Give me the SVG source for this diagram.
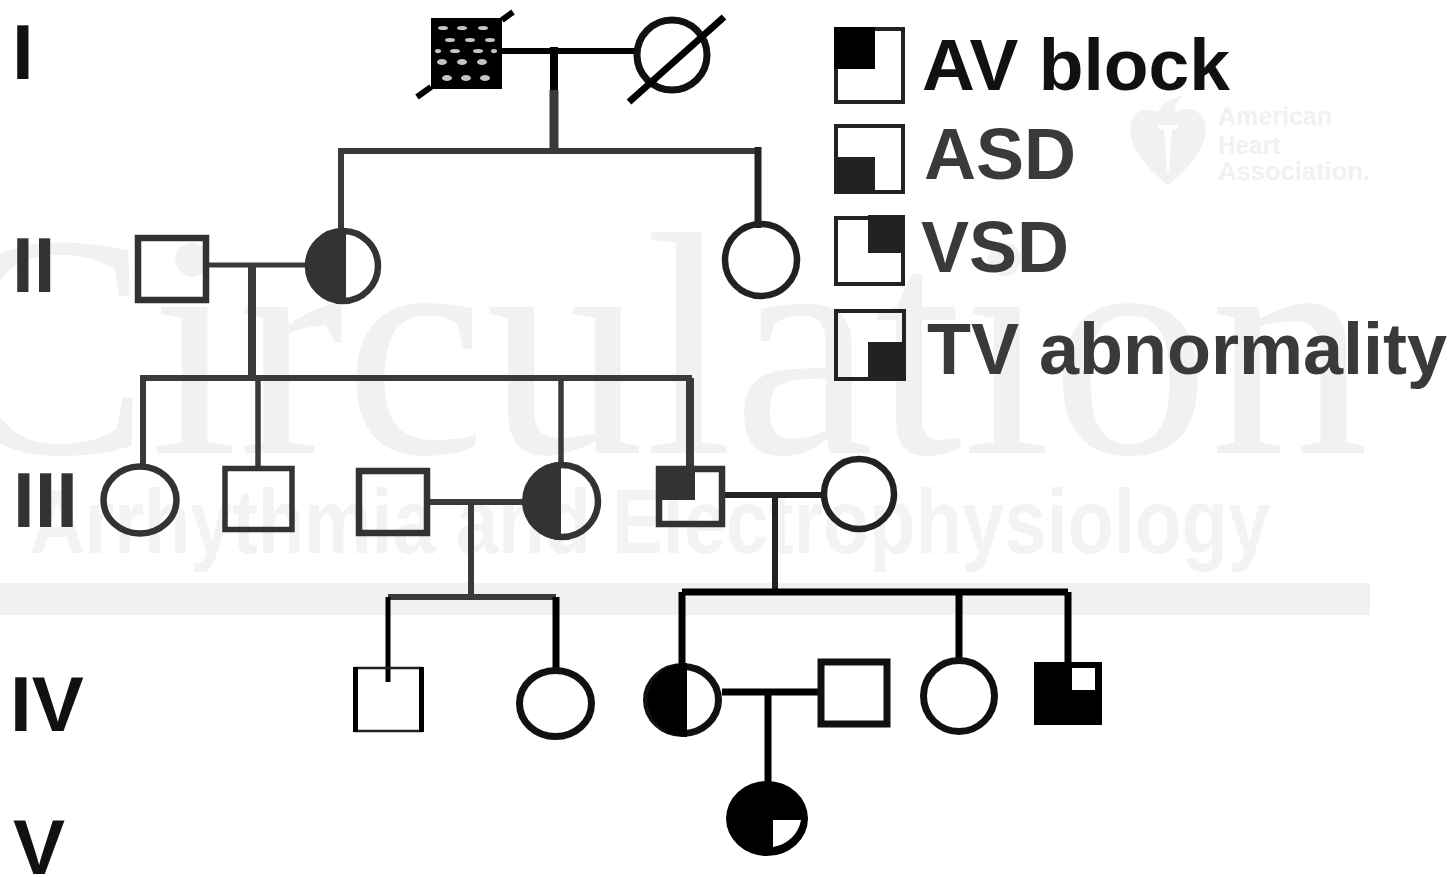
<svg xmlns="http://www.w3.org/2000/svg" width="1452" height="877" viewBox="0 0 1452 877">
<style>
.wm{fill:#f1f1f1}
.wa{font-family:"Liberation Sans",Arial,sans-serif;font-weight:bold;fill:#f3f3f3;font-size:90px}
.wh{font-family:"Liberation Sans",Arial,sans-serif;font-weight:bold;fill:#f1f1f1;font-size:26px}
.lbl{font-family:"Liberation Sans",Arial,sans-serif;font-weight:bold;fill:#3a3a3a;font-size:72px}
.gen{font-family:"Liberation Sans",Arial,sans-serif;font-weight:bold;fill:#111;font-size:78px}
.s{fill:none;stroke:#333;stroke-width:6.5}
.k{fill:none;stroke:#111;stroke-width:7}
.f{fill:#333}
.lf{fill:#222}
.b{fill:#000}
.l{fill:none;stroke:#222;stroke-width:4}
.c{fill:none;stroke:#3a3a3a;stroke-width:6}
.d{fill:none;stroke:#000;stroke-width:7}
.sp{fill:#c4c4c4}
</style>
<rect width="1452" height="877" fill="#fff"/>
<g id="watermark">
<text class="wm" x="-62" y="453" font-family="Liberation Serif,serif" font-size="318">Circulation</text>
<text class="wa" x="30" y="553" textLength="1240" lengthAdjust="spacingAndGlyphs">Arrhythmia and Electrophysiology</text>
<rect class="wm" x="0" y="583" width="1370" height="32"/>
<path class="wm" d="M1168 186C1150 170 1130 150 1130 130C1130 112 1145 106 1158 112C1164 102 1172 98 1182 96C1176 102 1174 108 1176 112C1190 104 1206 112 1206 130C1206 150 1186 170 1168 186Z"/>
<path fill="#fff" d="M1158 125H1178V129H1172L1169 172H1167L1164 129H1158Z"/>
<text class="wh" x="1218" y="125" textLength="114" lengthAdjust="spacingAndGlyphs">American</text>
<text class="wh" x="1218" y="154" textLength="62" lengthAdjust="spacingAndGlyphs">Heart</text>
<text class="wh" x="1218" y="180" textLength="152" lengthAdjust="spacingAndGlyphs">Association.</text>
</g>
<g id="connectors">
<path class="d" d="M500 51H636" style="stroke-width:6"/>
<path class="d" d="M554 47V90" style="stroke-width:8"/>
<path class="c" d="M554 90V150" style="stroke-width:9"/>
<path class="c" d="M341 234V151H758"/>
<path class="d" d="M758 147V228" style="stroke:#222"/>
<path class="c" d="M205 265H306" style="stroke-width:5"/>
<path class="c" d="M252 265V378" style="stroke-width:8"/>
<path class="c" d="M143 468V378H692"/>
<path class="c" d="M258 378V468M561 378V468" style="stroke-width:5.5"/>
<path class="c" d="M690 378V468" style="stroke-width:8"/>
<path class="c" d="M428 502H524M471 502V596M388 597H556"/>
<path class="d" d="M388 597V682" style="stroke-width:5"/>
<path class="d" d="M556 597V670"/>
<path class="d" d="M722 495H824" style="stroke:#222;stroke-width:6"/>
<path class="c" d="M775 495V592" style="stroke:#222"/>
<path class="d" d="M682 592H1068M682 592V668M959 592V664M1068 592V664M722 692H822M768 692V785"/>
</g>
<g id="I-1"><rect x="431" y="18" width="71" height="71" class="b"/>
<g class="sp"><ellipse cx="443" cy="28" rx="5" ry="2"/><ellipse cx="462" cy="28" rx="5" ry="2"/><ellipse cx="483" cy="28" rx="5" ry="2"/><ellipse cx="450" cy="40" rx="5" ry="2"/><ellipse cx="470" cy="40" rx="5" ry="2"/><ellipse cx="490" cy="40" rx="5" ry="2"/><ellipse cx="438" cy="51" rx="3" ry="2"/><ellipse cx="455" cy="51" rx="5" ry="2"/><ellipse cx="478" cy="51" rx="5" ry="2"/><ellipse cx="494" cy="51" rx="3" ry="2"/><ellipse cx="442" cy="62" rx="5" ry="3"/><ellipse cx="462" cy="62" rx="5" ry="3"/><ellipse cx="482" cy="62" rx="5" ry="3"/><ellipse cx="447" cy="78" rx="5" ry="3"/><ellipse cx="466" cy="78" rx="5" ry="3"/><ellipse cx="485" cy="78" rx="5" ry="3"/></g>
<path class="d" d="M417 97L431 87M502 20L513 12" style="stroke-width:6"/></g>
<g id="I-2"><circle cx="672" cy="55" r="35" class="k"/><path class="d" d="M629 102L724 17"/></g>
<g id="II-1"><rect x="138" y="238" width="68" height="62" class="s"/></g>
<g id="II-2"><circle cx="343" cy="266" r="35" class="s"/><path class="f" d="M346 228A38.5 37.5 0 0 0 346 303Z"/></g>
<g id="II-3"><circle cx="761" cy="260" r="36" class="s" style="stroke:#222"/></g>
<g id="III-1"><ellipse cx="140" cy="500" rx="36.5" ry="33.5" class="s"/></g>
<g id="III-2"><rect x="225" y="468.5" width="67" height="61" class="s" style="stroke-width:5.5"/></g>
<g id="III-3"><rect x="359" y="471" width="68" height="62" class="s"/></g>
<g id="III-4"><circle cx="562" cy="501" r="36" class="s"/><path class="f" d="M561 462A39 39 0 0 0 561 540Z"/></g>
<g id="III-5"><rect x="659" y="469" width="63" height="55" class="s"/><rect x="656" y="466" width="39" height="34" class="f"/></g>
<g id="III-6"><circle cx="859" cy="494" r="35" class="s" style="stroke:#222"/></g>
<g id="IV-1"><rect x="356" y="668" width="65" height="63" fill="none" stroke="#222" stroke-width="2.5"/><path class="d" d="M355.500 667V732M421.500 667V732" style="stroke-width:5"/></g>
<g id="IV-2"><ellipse cx="555.500" cy="703.500" rx="36" ry="33" class="k"/></g>
<g id="IV-3"><ellipse cx="682.500" cy="700" rx="36" ry="33.500" class="k"/><path class="b" d="M687 663A39.500 37 0 0 0 687 737Z"/></g>
<g id="IV-4"><rect x="821" y="662" width="66" height="62" class="k"/></g>
<g id="IV-5"><circle cx="959" cy="696" r="35.500" class="k"/></g>
<g id="IV-6"><rect x="1034" y="662" width="68" height="63" class="b"/><rect x="1072" y="668" width="23" height="22" fill="#fff"/></g>
<g id="V-1"><ellipse cx="767" cy="818.500" rx="41" ry="37.500" class="b"/><path fill="#fff" d="M773 820H801A33 33 0 0 1 773 847Z"/></g>
<g id="legend-av"><rect x="836" y="29" width="67" height="73" class="l"/><rect x="834" y="27" width="41" height="42" class="b"/><text class="lbl" x="922" y="90" style="fill:#111" textLength="308" lengthAdjust="spacingAndGlyphs">AV block</text></g>
<g id="legend-asd"><rect x="836" y="126" width="67" height="66" class="l"/><rect x="834" y="157" width="41" height="37" class="lf"/><text class="lbl" x="924" y="179">ASD</text></g>
<g id="legend-vsd"><rect x="836" y="218" width="67" height="66" class="l"/><rect x="868" y="215" width="37" height="38" class="lf"/><text class="lbl" x="921" y="272">VSD</text></g>
<g id="legend-tv"><rect x="836" y="311" width="68" height="68" class="l"/><rect x="868" y="342" width="38" height="39" class="lf"/><text class="lbl" x="927" y="374" textLength="520" lengthAdjust="spacingAndGlyphs">TV abnormality</text></g>
<g id="generations">
<text class="gen" x="12" y="79">I</text>
<text class="gen" x="12" y="292" style="fill:#333">II</text>
<text class="gen" x="13" y="527" style="fill:#333">III</text>
<text class="gen" x="10" y="731">IV</text>
<text class="gen" x="13" y="874">V</text>
</g>
</svg>
